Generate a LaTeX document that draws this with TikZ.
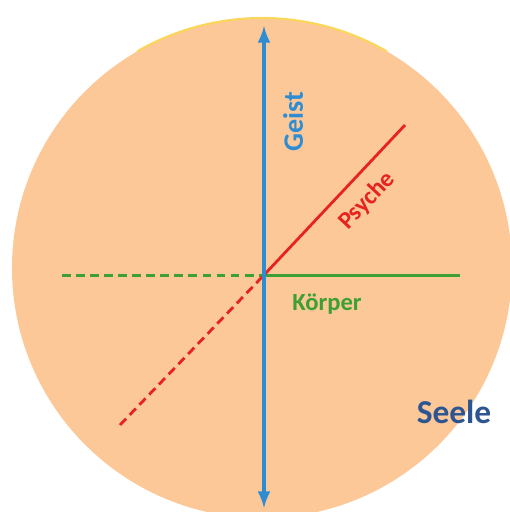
\documentclass[tikz,border=0pt]{standalone}
\usepackage{fontspec}
\setmainfont{Carlito}
\usepackage{tikz}
\usetikzlibrary{arrows,positioning,calc}
\definecolor{seelebg}{RGB}{252,200,152}
\definecolor{seelerim}{RGB}{250,215,90}
\definecolor{geistblue}{RGB}{45,140,210}
\definecolor{seeleblue}{RGB}{45,85,145}
\definecolor{koerpergreen}{RGB}{60,160,50}
\definecolor{psychered}{RGB}{230,35,30}
\tikzset{>=latex}
\tikzset{font=\bfseries}
\tikzset{
  axisgeist/.style={<->, geistblue, line width=2.2pt},
  axiskoerper/.style={koerpergreen, line width=1.7pt},
  axispsyche/.style={psychered, line width=1.6pt},
  back/.style={dashed, dash pattern=on 5pt off 3pt},
}

\begin{document}
\begin{tikzpicture}[x=0.02cm,y=-0.02cm]
  \useasboundingbox (0,0) rectangle (510,512);
  \clip (0,0) rectangle (510,512);
  % Seele
  \fill[seelebg] (262,268) circle [radius=250];
  \draw[seelerim, line width=1.2pt] (262,268) ++(240:250) arc (240:300:250);
  \coordinate (o) at (264,275);
  \coordinate (gtop) at (264,26);
  \coordinate (gbot) at (264,508);
  \coordinate (kleft) at (62,275);
  \coordinate (kright) at (460,275);
  \coordinate (ptop) at (405,125);
  \coordinate (pbot) at (120,425);
  % axes
  \draw[axiskoerper, back] (kleft) -- (o);
  \draw[axiskoerper] (o) -- (kright);
  \draw[axispsyche, back] (pbot) -- (o);
  \draw[axispsyche] (o) -- (ptop);
  \draw[axisgeist] (gbot) -- (gtop);
  % labels
  \node[geistblue, rotate=90, font=\fontsize{16}{18}\selectfont\bfseries] (geist) at (293,122) {Geist};
  \node[psychered, rotate=47, font=\fontsize{14}{16}\selectfont\bfseries] (psyche) at (367,201) {Psyche};
  \node[koerpergreen, font=\fontsize{14}{16}\selectfont\bfseries] (koerper) at (327,304) {Körper};
  \node[seeleblue, font=\fontsize{19}{21}\selectfont\bfseries] (seele) at (454,412) {Seele};
\end{tikzpicture}
\end{document}
